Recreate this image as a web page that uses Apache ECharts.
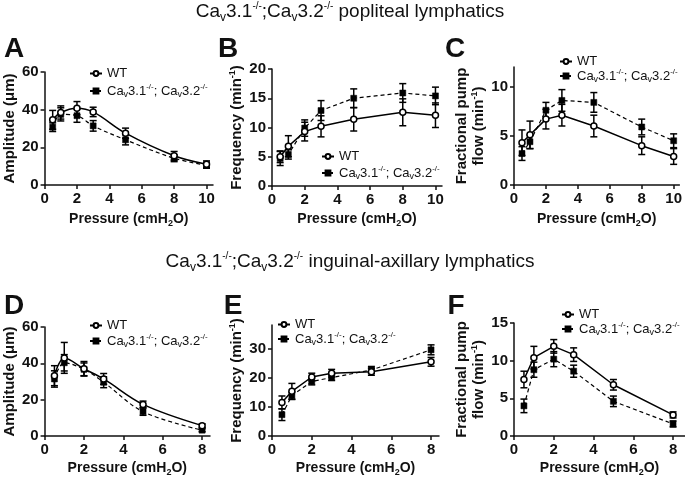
<!DOCTYPE html>
<html><head><meta charset="utf-8">
<script src="https://cdn.jsdelivr.net/npm/echarts@6/dist/echarts.min.js"></script>
<style>html,body{margin:0;padding:0;background:#fff}#c{width:685px;height:478px}</style>
</head><body><div id="c"></div>
<script>
// ---- data ----
const pressureTop = [0.5, 1, 2, 3, 5, 8, 10];
const pressureBot = [0.5, 1, 2, 3, 5, 8];
const xTicksTop = [0, 2, 4, 6, 8, 10];
const xTicksBot = [0, 2, 4, 6, 8];
// A: popliteal amplitude
const ampPopWT = [34.6, 38.5, 40.8, 38.8, 27.5, 15.5, 11.0];
const ampPopWTErr = [5.0, 3.5, 3.5, 2.5, 2.7, 2.3, 1.8];
const ampPopKO = [30.7, 37.5, 36.8, 31.4, 24.0, 14.2, 10.5];
const ampPopKOErr = [2.3, 3.5, 3.5, 2.8, 2.7, 1.8, 1.6];
// B: popliteal frequency
const freqPopWT = [5.0, 6.8, 9.3, 10.2, 11.4, 12.6, 12.1];
const freqPopWTErr = [1.0, 1.8, 1.6, 1.8, 2.0, 2.3, 2.1];
const freqPopKO = [4.7, 5.4, 9.9, 12.9, 15.0, 15.9, 15.4];
const freqPopKOErr = [1.2, 0.8, 1.4, 1.7, 1.6, 1.6, 1.5];
// C: popliteal fractional pump flow
const fpfPopWT = [4.3, 5.1, 6.7, 7.1, 6.0, 4.0, 2.9];
const fpfPopWTErr = [1.3, 1.4, 1.0, 1.1, 1.1, 0.9, 0.8];
const fpfPopKO = [3.2, 4.4, 7.6, 8.6, 8.4, 5.9, 4.5];
const fpfPopKOErr = [0.7, 0.7, 0.8, 1.1, 1.0, 0.8, 0.7];
// D: inguinal-axillary amplitude
const ampIaWT = [33.2, 43.0, 37.0, 31.4, 17.4, 5.7];
const ampIaWTErr = [5.5, 8.5, 4.0, 3.0, 1.8, 1.0];
const ampIaKO = [31.4, 40.3, 36.7, 29.6, 13.4, 3.2];
const ampIaKOErr = [4.5, 4.5, 3.5, 3.0, 2.0, 0.8];
// E: inguinal-axillary frequency
const freqIaWT = [11.5, 15.3, 20.2, 21.5, 22.0, 25.4];
const freqIaWTErr = [2.2, 2.7, 1.3, 1.3, 1.2, 1.5];
const freqIaKO = [7.3, 13.8, 18.7, 20.0, 22.6, 29.5];
const freqIaKOErr = [2.0, 1.3, 1.2, 1.0, 1.2, 1.7];
// F: inguinal-axillary fractional pump flow
const fpfIaWT = [7.5, 10.4, 11.9, 10.8, 6.8, 2.8];
const fpfIaWTErr = [1.1, 1.5, 0.9, 0.9, 0.7, 0.4];
const fpfIaKO = [4.0, 8.8, 10.2, 8.6, 4.6, 1.6];
const fpfIaKOErr = [0.9, 1.0, 1.0, 0.8, 0.7, 0.4];

// ---- layout / styling ----
const FONT = 'Arial, "Liberation Sans", Helvetica, sans-serif';
const INK = '#111';
const richSS = {
  sub: {fontSize: 9, padding: [8, 0, 0, 0], fontFamily: FONT, color: INK},
  sup: {fontSize: 8, padding: [0, 0, 8, 0], fontFamily: FONT, color: INK}
};
const richBold = {
  sup: {fontSize: 9, fontWeight: 'bold', padding: [0, 0, 8, 0], fontFamily: FONT, color: INK},
  sub: {fontSize: 9, fontWeight: 'bold', padding: [8, 0, 0, 0], fontFamily: FONT, color: INK}
};

const panels = [
  {x: pressureTop, wt: ampPopWT, wtE: ampPopWTErr, ko: ampPopKO, koE: ampPopKOErr, smooth: 0.35,
   grid: {left: 43, top: 72, width: 170, height: 113}, xmax: 10.4, xticks: xTicksTop,
   ymax: 60, yint: 20, yticks: [0, 20, 40, 60], yname: 'Amplitude (μm)', ygap: 25, xgap: 26,
   legend: {left: 89, top: 67, itemGap: 3}},
  {x: pressureTop, wt: freqPopWT, wtE: freqPopWTErr, ko: freqPopKO, koE: freqPopKOErr, smooth: 0,
   grid: {left: 272, top: 69, width: 170, height: 117}, xmax: 10.4, xticks: xTicksTop,
   ymax: 20, yint: 5, yticks: [0, 5, 10, 15, 20], yname: 'Frequency (min{sup|-1})', ygap: 25, xgap: 25,
   legend: {left: 321, top: 150, itemGap: 2}},
  {x: pressureTop, wt: fpfPopWT, wtE: fpfPopWTErr, ko: fpfPopKO, koE: fpfPopKOErr, smooth: 0,
   grid: {left: 514, top: 67, width: 171, height: 118}, xmax: 10.36, xticks: xTicksTop,
   ymax: 12, yint: 5, yticks: [0, 5, 10], yname: 'Fractional pump\nflow (min{sup|-1})', ygap: 18, xgap: 26,
   legend: {left: 559, top: 55, itemGap: 0}},
  {x: pressureBot, wt: ampIaWT, wtE: ampIaWTErr, ko: ampIaKO, koE: ampIaKOErr, smooth: 0.35,
   grid: {left: 43, top: 327, width: 167, height: 111}, xmax: 8.4, xticks: xTicksBot,
   ymax: 60, yint: 20, yticks: [0, 20, 40, 60], yname: 'Amplitude (μm)', ygap: 25, xgap: 24,
   legend: {left: 89, top: 319, itemGap: 1}},
  {x: pressureBot, wt: freqIaWT, wtE: freqIaWTErr, ko: freqIaKO, koE: freqIaKOErr, smooth: 0,
   grid: {left: 272, top: 325, width: 167, height: 113}, xmax: 8.4, xticks: xTicksBot,
   ymax: 38, yint: 10, yticks: [0, 10, 20, 30], yname: 'Frequency (min{sup|-1})', ygap: 27, xgap: 24,
   legend: {left: 277, top: 318, itemGap: 0}},
  {x: pressureBot, wt: fpfIaWT, wtE: fpfIaWTErr, ko: fpfIaKO, koE: fpfIaKOErr, smooth: 0,
   grid: {left: 514, top: 323, width: 171, height: 115}, xmax: 8.6, xticks: xTicksBot,
   ymax: 15, yint: 5, yticks: [0, 5, 10, 15], yname: 'Fractional pump\nflow (min{sup|-1})', ygap: 18, xgap: 24,
   legend: {left: 561, top: 308, itemGap: 0}}
];

const axisLineStyle = {color: INK, width: 1.5};

function errRender(params, api) {
  const x = api.value(0), y = api.value(1), e = api.value(2);
  const t = api.coord([x, y + e]), b = api.coord([x, y - e]);
  const w = 3.5;
  const st = {stroke: '#000', lineWidth: 1.5};
  return {type: 'group', children: [
    {type: 'line', shape: {x1: t[0], y1: t[1], x2: b[0], y2: b[1]}, style: st},
    {type: 'line', shape: {x1: t[0] - w, y1: t[1], x2: t[0] + w, y2: t[1]}, style: st},
    {type: 'line', shape: {x1: b[0] - w, y1: b[1], x2: b[0] + w, y2: b[1]}, style: st}
  ]};
}

const grids = [], xAxes = [], yAxes = [], series = [], legends = [];
panels.forEach((p, i) => {
  grids.push(Object.assign({containLabel: false}, p.grid));
  xAxes.push({
    type: 'value', gridIndex: i, min: 0, max: p.xmax, interval: 2,
    name: 'Pressure (cmH{sub|2}O)', nameLocation: 'middle', nameGap: p.xgap,
    nameTextStyle: {fontSize: 14, fontWeight: 'bold', color: INK, fontFamily: FONT, rich: richBold},
    axisLine: {show: true, lineStyle: axisLineStyle},
    axisTick: {show: true, length: 4, lineStyle: axisLineStyle, customValues: p.xticks},
    axisLabel: {fontSize: 15, fontWeight: 'bold', color: INK, fontFamily: FONT, margin: 6,
                customValues: p.xticks},
    splitLine: {show: false}
  });
  yAxes.push({
    type: 'value', gridIndex: i, min: 0, max: p.ymax, interval: p.yint,
    name: p.yname, nameLocation: 'middle', nameGap: p.ygap,
    nameTextStyle: {fontSize: 15, fontWeight: 'bold', color: INK, fontFamily: FONT, rich: richBold, lineHeight: 17},
    axisLine: {show: true, lineStyle: axisLineStyle},
    axisTick: {show: true, length: 4, lineStyle: axisLineStyle, customValues: p.yticks},
    axisLabel: {fontSize: 15, fontWeight: 'bold', color: INK, fontFamily: FONT, margin: 6,
                customValues: p.yticks},
    splitLine: {show: false}
  });
  const wtPts = p.x.map((x, k) => [x, p.wt[k]]);
  const koPts = p.x.map((x, k) => [x, p.ko[k]]);
  series.push({
    type: 'custom', xAxisIndex: i, yAxisIndex: i, z: 1, silent: true,
    renderItem: errRender, data: p.x.map((x, k) => [x, p.wt[k], p.wtE[k]])
  });
  series.push({
    type: 'custom', xAxisIndex: i, yAxisIndex: i, z: 1, silent: true,
    renderItem: errRender, data: p.x.map((x, k) => [x, p.ko[k], p.koE[k]])
  });
  series.push({
    name: 'KO', type: 'line', xAxisIndex: i, yAxisIndex: i, z: 3, smooth: p.smooth,
    data: koPts, symbol: 'rect', symbolSize: 6, showAllSymbol: true,
    itemStyle: {color: '#000', borderColor: '#000', borderWidth: 0.5},
    lineStyle: {color: '#000', width: 1.2, type: [4, 3]},
    animation: false
  });
  series.push({
    name: 'WT', type: 'line', xAxisIndex: i, yAxisIndex: i, z: 4, smooth: p.smooth,
    data: wtPts, symbol: 'circle', symbolSize: 6, showAllSymbol: true,
    itemStyle: {color: '#fff', borderColor: '#000', borderWidth: 1.5},
    lineStyle: {color: '#000', width: 1.5},
    animation: false
  });
  legends.push(Object.assign({
    orient: 'vertical', itemWidth: 12, itemHeight: 6, padding: 0,
    data: ['WT', 'KO'], selectedMode: false,
    formatter: n => n === 'WT' ? 'WT' : 'Ca{sub|v}3.1{sup|-/-}; Ca{sub|v}3.2{sup|-/-}',
    textStyle: {fontSize: 13, color: INK, fontFamily: FONT, rich: richSS}
  }, p.legend));
});

const titleRich = {
  sub: {fontSize: 12, padding: [11, 0, 0, 0], fontFamily: FONT, color: INK},
  sup: {fontSize: 10, padding: [0, 0, 11, 0], fontFamily: FONT, color: INK}
};
function txt(x, y, text, size, bold, rich) {
  return {type: 'text', x: x, y: y, silent: true, style: {
    text: text, fill: INK, font: (bold ? 'bold ' : '') + size + 'px ' + FONT,
    align: 'center', verticalAlign: 'middle', rich: rich || {}
  }};
}
const graphics = [
  txt(350, 12, 'Ca{sub|v}3.1{sup|-/-};Ca{sub|v}3.2{sup|-/-} popliteal lymphatics', 19, false, titleRich),
  txt(350, 262, 'Ca{sub|v}3.1{sup|-/-};Ca{sub|v}3.2{sup|-/-} inguinal-axillary lymphatics', 19, false, titleRich),
  txt(14, 49, 'A', 28, true), txt(228, 49, 'B', 28, true), txt(455, 49, 'C', 28, true),
  txt(14, 306, 'D', 28, true), txt(233, 306, 'E', 28, true), txt(456, 306, 'F', 28, true)
];

const chart = echarts.init(document.getElementById('c'), null, {renderer: 'canvas'});
chart.setOption({
  backgroundColor: '#fff',
  animation: false,
  grid: grids, xAxis: xAxes, yAxis: yAxes, series: series, legend: legends,
  graphic: graphics
});
</script></body></html>
